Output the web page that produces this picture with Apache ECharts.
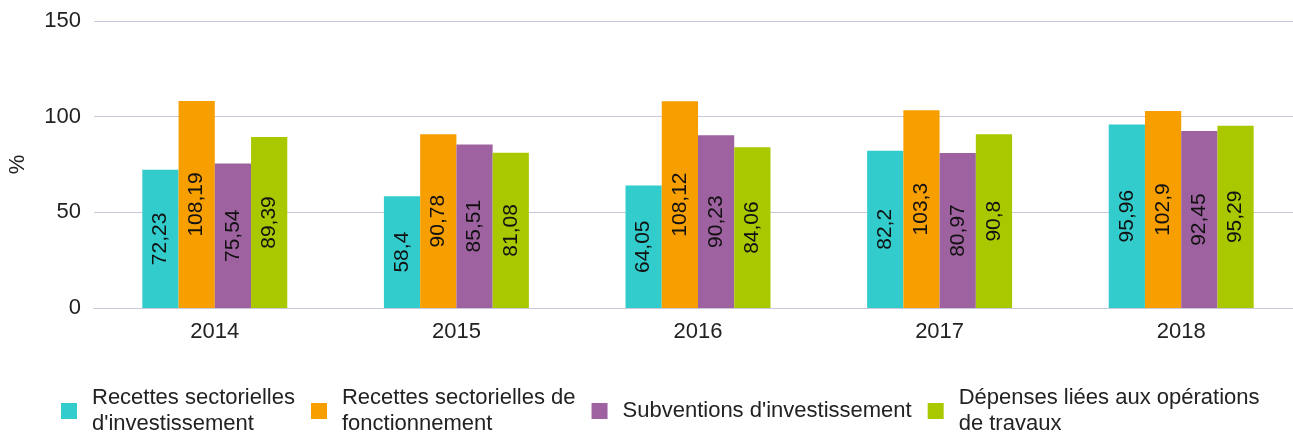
<!DOCTYPE html>
<html>
<head>
<meta charset="utf-8">
<script src="https://cdn.jsdelivr.net/npm/echarts@6/dist/echarts.min.js"></script>
<style>
  html, body { margin: 0; padding: 0; background: #fff; }
  #chart { width: 1293px; height: 432px; }
</style>
</head>
<body>
<div id="chart"></div>
<script>
var years = ['2014', '2015', '2016', '2017', '2018'];
var recInvest = [72.23, 58.4, 64.05, 82.2, 95.96];
var recFonct = [108.19, 90.78, 108.12, 103.3, 102.9];
var subvInvest = [75.54, 85.51, 90.23, 80.97, 92.45];
var depTravaux = [89.39, 81.08, 84.06, 90.8, 95.29];

var names = [
	'Recettes sectorielles d\'investissement',
	'Recettes sectorielles de fonctionnement',
	'Subventions d\'investissement',
	'Dépenses liées aux opérations de travaux'
];
// how the legend wraps
var legendText = {};
legendText[names[0]] = 'Recettes sectorielles\nd\'investissement';
legendText[names[1]] = 'Recettes sectorielles de\nfonctionnement';
legendText[names[2]] = 'Subventions d\'investissement';
legendText[names[3]] = 'Dépenses liées aux opérations\nde travaux';

var colors = ['#33CCCC', '#F79F00', '#9E62A0', '#AAC800'];
var font = '"Liberation Sans", Arial, sans-serif';

function barSeries(name, data, color) {
	return {
		name: name,
		type: 'bar',
		data: data,
		color: color,
		barGap: 0,
		barCategoryGap: '40%',
		label: {
			show: true,
			position: 'inside',
			rotate: 90,
			color: '#111',
			fontFamily: font,
			fontSize: 21,
			formatter: function (p) { return String(p.value).replace('.', ','); }
		}
	};
}

var option = {
	animation: false,
	textStyle: { fontFamily: font },
	grid: { left: 94, right: -9, top: 21, bottom: 124, containLabel: false, outerBoundsMode: 'none' },
	legend: {
		left: 56,
		top: 380,
		itemWidth: 16,
		itemHeight: 16,
		itemGap: 16,
		icon: 'rect',
		selectedMode: false,
		data: names,
		formatter: function (n) { return legendText[n]; },
		textStyle: {
			color: '#222',
			fontFamily: font,
			fontSize: 22,
			lineHeight: 26,
			padding: [0, 0, 0, 10]
		}
	},
	xAxis: {
		type: 'category',
		data: years,
		axisTick: { show: false },
		axisLine: { lineStyle: { color: '#C8C8DC', width: 1 } },
		axisLabel: { color: '#222', fontSize: 22, fontFamily: font, margin: 13 }
	},
	yAxis: {
		type: 'value',
		min: 0,
		max: 150,
		interval: 50,
		name: '%',
		nameLocation: 'middle',
		nameGap: 65,
		nameRotate: 90,
		nameTextStyle: { color: '#222', fontSize: 22, fontFamily: font },
		axisLine: { show: false },
		axisTick: { show: false },
		axisLabel: { color: '#222', fontSize: 22, fontFamily: font, margin: 13 },
		splitLine: { lineStyle: { color: '#C8C8DC', width: 1 } }
	},
	series: [
		barSeries(names[0], recInvest, colors[0]),
		barSeries(names[1], recFonct, colors[1]),
		barSeries(names[2], subvInvest, colors[2]),
		barSeries(names[3], depTravaux, colors[3])
	]
};

var chart = echarts.init(document.getElementById('chart'));
chart.setOption(option);
</script>
</body>
</html>
